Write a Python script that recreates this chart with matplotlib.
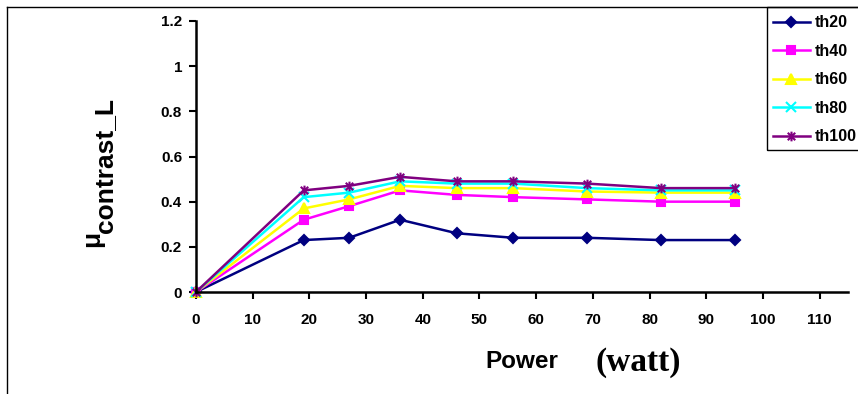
import matplotlib
matplotlib.use("Agg")
import matplotlib.pyplot as plt
from matplotlib.lines import Line2D
from matplotlib.patches import Rectangle
from matplotlib.path import Path

power = [0, 19, 27, 36, 46, 56, 69, 82, 95]

th20 = [0, 0.23, 0.24, 0.32, 0.26, 0.24, 0.24, 0.23, 0.23]
th40 = [0, 0.32, 0.38, 0.45, 0.43, 0.42, 0.41, 0.40, 0.40]
th60 = [0, 0.37, 0.41, 0.47, 0.46, 0.46, 0.445, 0.44, 0.44]
th80 = [0, 0.42, 0.44, 0.49, 0.48, 0.48, 0.46, 0.45, 0.45]
th100 = [0, 0.45, 0.47, 0.51, 0.49, 0.49, 0.48, 0.46, 0.46]

names = ["th20", "th40", "th60", "th80", "th100"]
colors = ["#000080", "#FF00FF", "#FFFF00", "#00FFFF", "#800080"]

# excel style star: an x with a vertical bar
star = Path([(-1, -1), (1, 1), (-1, 1), (1, -1), (0, -1.3), (0, 1.3)],
            [Path.MOVETO, Path.LINETO, Path.MOVETO, Path.LINETO, Path.MOVETO, Path.LINETO])
markers = ["D", "s", "^", "x", star]
msizes = [5, 5.5, 6.5, 6.5, 7]

plt.rcParams["font.family"] = ["Liberation Sans", "DejaVu Sans"]
plt.rcParams["font.weight"] = "bold"

W, H = 858, 394
fig = plt.figure(figsize=(W / 100, H / 100), dpi=100)
ax = fig.add_axes([196 / W, 1 - 292 / H, (848 - 196) / W, (292 - 21) / H])

series = [th20, th40, th60, th80, th100]
handles = []
for vals, name, c, m, ms in zip(series, names, colors, markers, msizes):
    ln, = ax.plot(power, vals, color=c, lw=1.8, marker=m, ms=ms,
                  mec=c, mfc=c, mew=1.5, clip_on=False, label=name)
    handles.append(ln)

ax.set_xlim(0, 115)
ax.set_ylim(0, 1.2)
ax.set_xticks(range(0, 111, 10))
ax.set_yticks([0, 0.2, 0.4, 0.6, 0.8, 1.0, 1.2])
ax.set_yticklabels(["0", "0.2", "0.4", "0.6", "0.8", "1", "1.2"])
for lab in ax.get_xticklabels() + ax.get_yticklabels():
    lab.set_fontweight("bold")
ax.tick_params(axis="x", direction="out", length=5, width=1.5, pad=10, labelsize=11)
ax.tick_params(axis="y", direction="out", length=5, width=1.5, pad=5, labelsize=11)
for s in ["top", "right"]:
    ax.spines[s].set_visible(False)
for s in ["left", "bottom"]:
    ax.spines[s].set_linewidth(1.8)

# y label: mu with subscript
fig.text(99 / W, 1 - 247 / H, "\u03bc", rotation=90, rotation_mode="anchor",
         ha="left", va="baseline", fontsize=19, fontweight="bold")
fig.text(112 / W, 1 - 233 / H, "contrast_L", rotation=90, rotation_mode="anchor",
         ha="left", va="baseline", fontsize=19, fontweight="bold")

# x label
fig.text(522 / W, 1 - 368 / H, "Power", ha="center", va="baseline",
         fontsize=17.5, fontweight="bold")
fig.text(638 / W, 1 - 371 / H, "(watt)", ha="center", va="baseline",
         fontsize=24, fontweight="bold", family="Liberation Serif")

# chart area border
fig.add_artist(Line2D([7 / W, 7 / W], [0, 1 - 7 / H], color="black", lw=1))
fig.add_artist(Line2D([7 / W, 1], [1 - 7 / H, 1 - 7 / H], color="black", lw=1))

# legend box
fig.add_artist(Rectangle((767 / W, 1 - 150 / H), 120 / W, 143 / H, fill=False,
                         ec="black", lw=1, transform=fig.transFigure, clip_on=False))
leg = fig.legend(handles=handles, loc="upper left",
                 bbox_to_anchor=(769.8 / W, 1 - 12.3 / H), frameon=False,
                 fontsize=11.5, handlelength=2.3, handletextpad=0.3,
                 labelspacing=0.84, borderaxespad=0, borderpad=0.2)
for t in leg.get_texts():
    t.set_fontweight("bold")

fig.savefig("out.png", dpi=100)
